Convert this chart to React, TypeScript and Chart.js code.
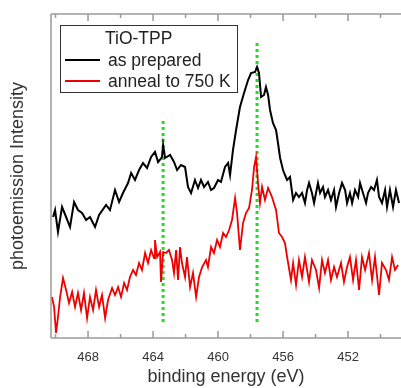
import React, { useEffect, useRef } from "react";
import { Chart, registerables } from "chart.js";

Chart.register(...registerables);

// binding energy (eV) and photoemission intensity (arb. units) — "as prepared"
const asPreparedEnergy = [
  470.15, 470.03, 469.85, 469.6, 469.35, 469.11, 468.86, 468.62, 468.37, 468.12,
  467.88, 467.57, 467.32, 466.89, 466.65, 466.34, 466.09, 465.85, 465.54, 465.35,
  465.11, 464.86, 464.62, 464.37, 464.12, 463.88, 463.69, 463.45, 463.38, 463.26,
  462.95, 462.71, 462.52, 462.28, 462.03, 461.85, 461.66, 461.42, 461.23, 461.05,
  460.86, 460.62, 460.43, 460.25, 460.0, 459.82, 459.57, 459.38, 459.26, 459.08,
  458.89, 458.65, 458.4, 458.15, 457.97, 457.72, 457.6, 457.48, 457.35, 457.17,
  457.05, 456.92, 456.8, 456.62, 456.43, 456.31, 456.18, 456.0,
  455.88, 455.75, 455.57, 455.38, 455.2, 455.02, 454.83, 454.65, 454.52, 454.4,
  454.22, 454.09, 453.85, 453.72, 453.54, 453.42, 453.23, 453.05, 452.86, 452.74,
  452.55, 452.37, 452.18, 452.06, 451.88, 451.75, 451.57, 451.38, 451.26, 451.08,
  450.89, 450.77, 450.58, 450.4, 450.22, 450.09, 449.91, 449.72, 449.6, 449.42,
  449.23, 449.05, 448.86,
];
const asPreparedIntensity = [
  121, 128, 106, 131, 121, 111, 136, 128, 125, 118,
  121, 111, 123, 133, 128, 148, 136, 145, 155, 165,
  158, 168, 175, 170, 181, 186, 176, 181, 193, 180,
  183, 176, 168, 173, 171, 151, 145, 158, 150, 158,
  151, 156, 148, 150, 158, 156, 171, 175, 163, 188,
  208, 231, 245, 258, 265, 266, 271, 265, 241, 243,
  251, 243, 228, 215, 208, 195, 180, 168,
  163, 158, 161, 138, 145, 141, 145, 135, 148, 155,
  145, 135, 155, 145, 151, 141, 148, 138, 148, 131,
  145, 155, 148, 135, 145, 135, 148, 141, 155, 145,
  135, 145, 151, 148, 158, 141, 135, 148, 131, 148,
  131, 148, 135,
];

// "anneal to 750 K"
const annealedEnergy = [
  470.22, 470.09, 469.97, 469.85, 469.72, 469.54, 469.35, 469.17, 468.98, 468.8,
  468.62, 468.43, 468.25, 468.06, 467.88, 467.69, 467.51, 467.32, 467.14, 466.95,
  466.77, 466.52, 466.34, 466.15, 465.97, 465.78, 465.6, 465.42, 465.23, 465.05,
  464.86, 464.68, 464.49, 464.31, 464.12, 463.94, 463.88, 463.75, 463.57, 463.51,
  463.38, 463.2, 463.02, 462.83, 462.71, 462.58, 462.46, 462.34, 462.22, 462.03,
  461.91, 461.72, 461.54, 461.35, 461.17, 460.98, 460.74, 460.62, 460.43, 460.25,
  460.06, 459.88, 459.69, 459.51, 459.32, 459.14, 458.95, 458.83, 458.65, 458.46,
  458.28, 458.09, 457.91, 457.78, 457.66, 457.54, 457.42, 457.29, 457.11, 456.92,
  456.68, 456.43, 456.25, 456.06, 455.88, 455.75, 455.51, 455.38, 455.2, 455.02,
  454.83, 454.65, 454.4, 454.22, 453.97, 453.78, 453.6, 453.42, 453.23, 453.05,
  452.86, 452.68, 452.43, 452.25, 452.06, 451.88, 451.69, 451.51, 451.32, 451.14,
  450.95, 450.71, 450.52, 450.34, 450.09, 449.91, 449.66, 449.48, 449.29, 449.11,
  448.92,
];
const annealedIntensity = [
  41, 31, 5, 21, 41, 60, 48, 35, 46, 31,
  45, 28, 45, 20, 41, 28, 48, 31, 43, 20,
  38, 50, 43, 51, 41, 55, 48, 61, 68, 63,
  75, 68, 85, 75, 88, 80, 98, 81, 86, 56,
  86, 85, 88, 78, 65, 88, 58, 91, 75, 61,
  81, 51, 65, 41, 61, 71, 78, 71, 91, 85,
  98, 91, 105, 101, 108, 118, 140, 125, 88, 115,
  125, 130, 148, 171, 181, 155, 135, 151, 138, 150,
  141, 128, 105, 101, 95, 81, 58, 75, 53, 78,
  61, 81, 56, 78, 68, 50, 78, 65, 78, 58,
  71, 61, 75, 56, 71, 81, 58, 78, 48, 81,
  68, 85, 58, 81, 43, 75, 68, 58, 81, 68,
  73,
];

// reference markers (dotted green lines)
const markerEnergy = [463.38, 457.6];
const markerTop = [220, 295];
const markerBottom = [16, 16];

const xTickValues = [470, 468, 466, 464, 462, 460, 458, 456, 454, 452, 450];
const legendTitle = "TiO-TPP";
const seriesLabels = ["as prepared", "anneal to 750 K"];
const seriesColors = ["#000000", "#ee0000"];

const FONT = 'Arial, "Liberation Sans", sans-serif';

const framePlugin = {
  id: "frameAndLegend",
  afterDraw(chart: any) {
    const { ctx, chartArea } = chart;
    const { left, right, top, bottom } = chartArea;
    const x = chart.scales.x;
    ctx.save();
    ctx.strokeStyle = "#9a9a9a";
    ctx.lineWidth = 1.5;
    ctx.beginPath();
    ctx.moveTo(left, top);
    ctx.lineTo(left, bottom);
    ctx.moveTo(left, top);
    ctx.lineTo(right, top);
    ctx.moveTo(left, bottom);
    ctx.lineTo(right, bottom);
    for (const t of x.ticks) {
      const px = x.getPixelForValue(t.value);
      if (px < left - 0.5 || px > right + 0.5) continue;
      const len = t.value % 4 === 0 ? 7 : 4;
      ctx.moveTo(px, bottom);
      ctx.lineTo(px, bottom - len);
      ctx.moveTo(px, top);
      ctx.lineTo(px, top + len);
    }
    ctx.stroke();

    // legend
    const bx = 60.5, by = 25.5, bw = 177, bh = 67;
    ctx.fillStyle = "#ffffff";
    ctx.fillRect(bx, by, bw, bh);
    ctx.strokeStyle = "#333333";
    ctx.lineWidth = 1;
    ctx.strokeRect(bx, by, bw, bh);
    ctx.font = `17.5px ${FONT}`;
    ctx.fillStyle = "#222222";
    ctx.textAlign = "left";
    ctx.textBaseline = "alphabetic";
    ctx.fillText(legendTitle, 105, 44);
    const rows = [60, 81];
    seriesLabels.forEach((lab, i) => {
      ctx.strokeStyle = seriesColors[i];
      ctx.lineWidth = 2;
      ctx.beginPath();
      ctx.moveTo(65, rows[i]);
      ctx.lineTo(100, rows[i]);
      ctx.stroke();
      ctx.fillStyle = "#222222";
      ctx.fillText(lab, 108, rows[i] + 6);
    });
    ctx.restore();
  },
};

export default function App() {
  const ref = useRef<HTMLCanvasElement>(null);
  useEffect(() => {
    if (!ref.current) return;
    const toPts = (xs: number[], ys: number[]) => xs.map((v, i) => ({ x: v, y: ys[i] }));
    const markerSets = markerEnergy.map((e, i) => ({
      label: "marker" + i,
      data: [
        { x: e, y: markerBottom[i] },
        { x: e, y: markerTop[i] },
      ],
      borderColor: "#22dd22",
      borderWidth: 3,
      borderDash: [3, 3],
      pointRadius: 0,
    }));
    const chart = new Chart(ref.current, {
      type: "line",
      data: {
        datasets: [
          {
            label: seriesLabels[0],
            data: toPts(asPreparedEnergy, asPreparedIntensity),
            borderColor: seriesColors[0],
            borderWidth: 2,
            pointRadius: 0,
          },
          {
            label: seriesLabels[1],
            data: toPts(annealedEnergy, annealedIntensity),
            borderColor: seriesColors[1],
            borderWidth: 1.8,
            pointRadius: 0,
          },
          ...markerSets,
        ],
      },
      options: {
        animation: false,
        responsive: true,
        maintainAspectRatio: false,
        layout: { padding: { top: 14, right: 0, left: 0, bottom: 0 } },
        plugins: { legend: { display: false }, tooltip: { enabled: false } },
        scales: {
          x: {
            type: "linear",
            reverse: true,
            min: 448.74,
            max: 470.28,
            afterBuildTicks: (s: any) => {
              s.ticks = xTickValues.map((v) => ({ value: v }));
            },
            afterFit: (s: any) => {
              s.height = 50;
            },
            grid: { display: false },
            border: { display: false },
            ticks: {
              autoSkip: false,
              maxRotation: 0,
              padding: 4,
              color: "#333333",
              font: { size: 13, family: FONT },
              callback: (v: any) => (Number(v) % 4 === 0 ? String(v) : ""),
            },
            title: {
              display: true,
              text: "binding energy (eV)",
              color: "#333333",
              font: { size: 18, family: FONT },
              padding: { top: 0, bottom: 0 },
            },
          },
          y: {
            type: "linear",
            min: 0,
            max: 324,
            afterFit: (s: any) => {
              s.width = 51;
            },
            grid: { display: false },
            border: { display: false },
            ticks: { display: false },
            title: {
              display: true,
              text: "photoemission Intensity",
              color: "#333333",
              font: { size: 18, family: FONT },
              padding: { top: 7, bottom: 0 },
            },
          },
        },
      },
      plugins: [framePlugin],
    });
    return () => chart.destroy();
  }, []);
  return (
    <div style={{ position: "absolute", left: 0, top: 0, width: 401, height: 388, background: "#fff" }}>
      <canvas ref={ref} />
    </div>
  );
}
